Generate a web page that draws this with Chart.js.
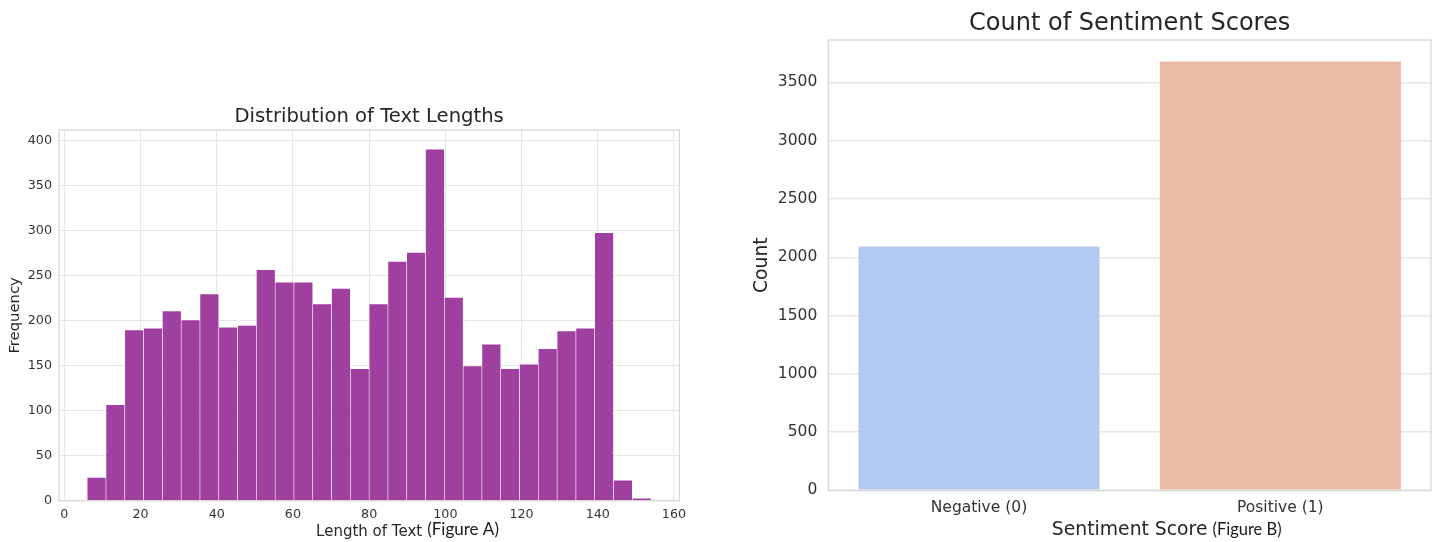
<!DOCTYPE html>
<html><head><meta charset="utf-8">
<script src="https://cdn.jsdelivr.net/npm/chart.js@4.4.1/dist/chart.umd.min.js"></script>
<style>
html,body{margin:0;padding:0;background:#fff;}
#wrap{position:relative;width:1444px;height:542px;overflow:hidden;background:#fff;}
#c1{position:absolute;left:0;top:0;}
#c2{position:absolute;left:722px;top:0;}
</style></head><body>
<div id="wrap"><canvas id="c1" width="722" height="542"></canvas><canvas id="c2" width="722" height="542"></canvas></div>
<script>
// ---- Figure A: histogram of text lengths ----
const binEdges = [6.0, 10.93, 15.87, 20.8, 25.73, 30.67, 35.6, 40.53, 45.47, 50.4, 55.33, 60.27, 65.2, 70.13, 75.07,
  80.0, 84.93, 89.87, 94.8, 99.73, 104.67, 109.6, 114.53, 119.47, 124.4, 129.33, 134.27, 139.2, 144.13, 149.07, 154.0];
const lengthCounts = [26, 107, 190, 192, 211, 201, 230, 193, 195, 257, 243, 243, 219, 236, 147,
  219, 266, 276, 391, 226, 150, 174, 147, 152, 169, 189, 192, 298, 23, 3];
const lengthTicks = [0, 20, 40, 60, 80, 100, 120, 140, 160];
const freqTicks = [0, 50, 100, 150, 200, 250, 300, 350, 400];

// ---- Figure B: sentiment counts ----
const sentimentLabels = ['Negative (0)', 'Positive (1)'];
const sentimentCounts = [2093, 3680];
const sentimentColors = ['#B4C9F2', '#EBBAA4'];
const countTicks = [0, 500, 1000, 1500, 2000, 2500, 3000, 3500];

Chart.defaults.font.family = "'DejaVu Sans', sans-serif";
Chart.defaults.color = '#333333';
Chart.defaults.animation = false;

const plain = (v) => String(v);

const framePlugin = {
  id: 'frame',
  afterDatasetsDraw(chart, args, opts) {
    const {ctx, chartArea: a} = chart;
    ctx.save();
    ctx.strokeStyle = opts.color || '#d4d4d4';
    ctx.lineWidth = opts.width || 1.25;
    ctx.strokeRect(a.left, a.top, a.right - a.left, a.bottom - a.top);
    ctx.restore();
  }
};

function figLabel(text, size) {
  return {
    id: 'figlabel',
    afterDraw(chart) {
      const xs = chart.scales.x;
      const t = xs.options.title;
      const ctx = chart.ctx;
      ctx.save();
      ctx.font = Chart.helpers.toFont(t.font).string;
      const w = ctx.measureText(t.text).width;
      const cx = (chart.chartArea.left + chart.chartArea.right) / 2;
      ctx.font = size + "px Lato, 'Open Sans', sans-serif";
      ctx.fillStyle = '#1a1a1a';
      ctx.textAlign = 'left';
      ctx.textBaseline = 'middle';
      ctx.fillText(text, cx + w / 2 + 5, xs.bottom - 12);
      ctx.restore();
    }
  };
}

const histData = lengthCounts.map((c, i) => ({x: (binEdges[i] + binEdges[i + 1]) / 2, y: c}));

new Chart(document.getElementById('c1'), {
  type: 'bar',
  data: {
    datasets: [{
      data: histData,
      backgroundColor: '#9F3F9F',
      borderColor: 'rgba(255,255,255,0.8)',
      borderWidth: {top: 0.8, left: 0.6, right: 0.6, bottom: 0},
      barPercentage: 1.0,
      categoryPercentage: 1.0
    }]
  },
  options: {
    responsive: false,
    devicePixelRatio: 1,
    layout: {padding: {left: 0, right: 42.7, top: 0, bottom: 0}},
    plugins: {
      legend: {display: false},
      tooltip: {enabled: false},
      title: {
        display: true, text: 'Distribution of Text Lengths', fullSize: false,
        color: '#262626', font: {size: 19.6, weight: 'normal'},
        padding: {top: 105.2, bottom: 1.3}
      },
      frame: {color: '#d6d6d6', width: 1.25}
    },
    scales: {
      x: {
        type: 'linear', min: -1.4, max: 161.4, offset: false,
        afterBuildTicks: (s) => { s.ticks = lengthTicks.map(v => ({value: v})); },
        afterFit: (s) => { s.height = 41.3; },
        grid: {color: '#e6e6e6', lineWidth: 1, drawTicks: false, offset: false},
        border: {display: false},
        ticks: {padding: 6, font: {size: 12.7}, color: '#333', callback: plain},
        title: {display: true, text: 'Length of Text', font: {size: 15}, color: '#262626', padding: {top: 0, bottom: 1}}
      },
      y: {
        min: 0, max: 412,
        afterBuildTicks: (s) => { s.ticks = freqTicks.map(v => ({value: v})); },
        afterFit: (s) => { s.width = 59; },
        grid: {color: '#e6e6e6', lineWidth: 1, drawTicks: false},
        border: {display: false},
        ticks: {padding: 7, font: {size: 12.7}, color: '#333', callback: plain},
        title: {display: true, text: 'Frequency', font: {size: 14.8}, color: '#262626', padding: {top: 6.6, bottom: 0}}
      }
    }
  },
  plugins: [framePlugin, figLabel('(Figure A)', 17)]
});

new Chart(document.getElementById('c2'), {
  type: 'bar',
  data: {
    labels: sentimentLabels,
    datasets: [{
      data: sentimentCounts,
      backgroundColor: sentimentColors,
      borderWidth: 0,
      barPercentage: 1.0,
      categoryPercentage: 0.8
    }]
  },
  options: {
    responsive: false,
    devicePixelRatio: 1,
    layout: {padding: {left: 0, right: 13, top: 0, bottom: 0}},
    plugins: {
      legend: {display: false},
      tooltip: {enabled: false},
      title: {
        display: true, text: 'Count of Sentiment Scores', fullSize: false,
        color: '#262626', font: {size: 24, weight: 'normal'},
        padding: {top: 9.6, bottom: 1.6}
      },
      frame: {color: '#d6d6d6', width: 1.25}
    },
    scales: {
      x: {
        afterFit: (s) => { s.height = 51.7; },
        grid: {display: false, drawTicks: false},
        border: {display: false},
        ticks: {padding: 8, font: {size: 15.5}, color: '#333'},
        title: {display: true, text: 'Sentiment Score', font: {size: 18.8}, color: '#262626', padding: {top: 0, bottom: 0.7}}
      },
      y: {
        min: 0, max: 3864,
        afterBuildTicks: (s) => { s.ticks = countTicks.map(v => ({value: v})); },
        afterFit: (s) => { s.width = 106.3; },
        grid: {color: '#e8e8e8', lineWidth: 1.4, drawTicks: false},
        border: {display: false},
        ticks: {padding: 11, font: {size: 15.5}, color: '#333', callback: plain},
        title: {display: true, text: 'Count', font: {size: 18.8}, color: '#262626', padding: {top: 28.7, bottom: 0}}
      }
    }
  },
  plugins: [framePlugin, figLabel('(Figure B)', 16.5)]
});
</script>
</body></html>
